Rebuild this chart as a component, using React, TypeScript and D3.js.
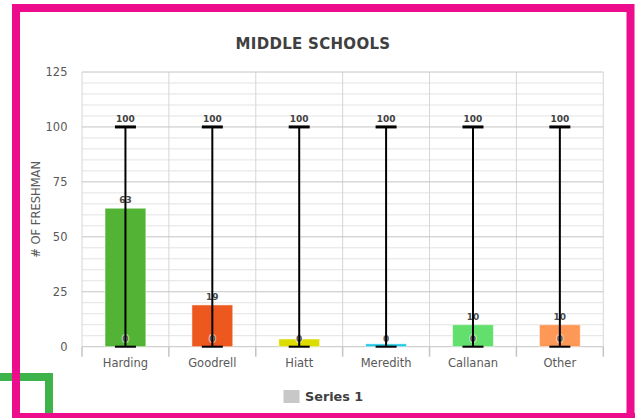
import React from 'react';
import * as d3 from 'd3';

const categories = ['Harding', 'Goodrell', 'Hiatt', 'Meredith', 'Callanan', 'Other'];
const freshmen = [63, 19, 3.5, 1.3, 10, 10];
const valueLabels = ['63', '19', '', '', '10', '10'];
const rangeLow = [0, 0, 0, 0, 0, 0];
const rangeHigh = [100, 100, 100, 100, 100, 100];
const barColors = ['#53b334', '#ed581f', '#dcdc00', '#22c7e4', '#62df6c', '#fe9856'];
const yTicks = [0, 25, 50, 75, 100, 125];
const minorStep = 5;

const W = 638;
const H = 418;
const font = '"DejaVu Sans", Verdana, sans-serif';

export default function App() {
  const margin = { top: 72, right: 34.7, bottom: 71.3, left: 82 };
  const x = d3.scaleBand<string>()
    .domain(categories)
    .range([margin.left, W - margin.right])
    .padding(0);
  const y = d3.scaleLinear()
    .domain([0, 125])
    .range([H - margin.bottom, margin.top]);

  const bw = x.bandwidth();
  const barW = bw * 0.47;
  const capW = 21;
  const minor = d3.range(0, 125 + 0.001, minorStep).filter(v => !yTicks.includes(v));
  const boundaries = categories.map(c => x(c)!).concat([x.range()[1]]);
  const [x0, x1] = x.range();

  const halo = { paintOrder: 'stroke' as const, stroke: 'rgba(255,255,255,0.6)', strokeWidth: 2 };

  return (
    <div style={{ position: 'fixed', left: 0, top: 0 }}>
      <svg width={W} height={H} style={{ display: 'block', background: '#fff' }}>
        {/* green corner accent */}
        <path d="M0,377 H49 V418" fill="none" stroke="#3db34a" strokeWidth={8} />
        {/* pink frame */}
        <path d="M16,420 V8 H630.5 V420" fill="none" stroke="#ec0c8c" strokeWidth={8} />
        <line x1={12} x2={635} y1={415.5} y2={415.5} stroke="#ec0c8c" strokeWidth={5} />

        <text x={313} y={49} textAnchor="middle" fontFamily={font} fontWeight="bold"
          fontSize={15} fill="#404040" letterSpacing={0.3}>MIDDLE SCHOOLS</text>

        {/* minor gridlines */}
        {minor.map(v => (
          <line key={'m' + v} x1={x0} x2={x1} y1={y(v)} y2={y(v)} stroke="#e3e3e3" strokeWidth={1} />
        ))}
        {/* vertical gridlines */}
        {boundaries.map((b, i) => (
          <line key={'v' + i} x1={b} x2={b} y1={y(125)} y2={y(0)} stroke="#d6d6d6" strokeWidth={1} />
        ))}
        {/* major gridlines */}
        {yTicks.map(v => (
          <line key={'g' + v} x1={x0} x2={x1} y1={y(v)} y2={y(v)} stroke="#c4c4c4" strokeWidth={1} />
        ))}
        {/* x axis ticks */}
        {boundaries.map((b, i) => (
          <line key={'t' + i} x1={b} x2={b} y1={y(0)} y2={y(0) + 10} stroke="#c4c4c4" strokeWidth={1.5} />
        ))}

        {yTicks.map(v => (
          <text key={'yl' + v} x={67.5} y={y(v)} dy="0.35em" textAnchor="end" fontFamily={font}
            fontSize={11.5} fill="#595959">{v}</text>
        ))}
        <text transform={`translate(40,${(y(0) + y(125)) / 2}) rotate(-90)`} textAnchor="middle"
          fontFamily={font} fontSize={11.5} fill="#595959">{'# OF FRESHMAN'}</text>

        {/* bars */}
        {categories.map((c, i) => {
          const cx = x(c)! + bw / 2;
          return (
            <rect key={'b' + c} x={cx - barW / 2} y={y(freshmen[i])} width={barW}
              height={y(0) - y(freshmen[i])} fill={barColors[i]} stroke="rgba(255,255,255,0.5)" strokeWidth={1} />
          );
        })}

        {/* data labels (under the high-low lines) */}
        {categories.map((c, i) => {
          const cx = x(c)! + bw / 2;
          return (
            <g key={'lab' + c}>
              <text x={cx} y={y(rangeLow[i]) - 5} textAnchor="middle" fontFamily={font} fontWeight="bold"
                fontSize={9} fill="#5a5a5a" style={halo}>{rangeLow[i]}</text>
              {valueLabels[i] && (
                <text x={cx} y={y(freshmen[i]) - 5} textAnchor="middle" fontFamily={font} fontWeight="bold"
                  fontSize={9} fill="#4a4a4a" style={halo}>{valueLabels[i]}</text>
              )}
            </g>
          );
        })}

        {/* high-low lines */}
        {categories.map((c, i) => {
          const cx = x(c)! + bw / 2;
          return (
            <g key={'hl' + c}>
              <line x1={cx} x2={cx} y1={y(rangeHigh[i])} y2={y(rangeLow[i])} stroke="#000" strokeWidth={2} />
              <line x1={cx - capW / 2} x2={cx + capW / 2} y1={y(rangeHigh[i])} y2={y(rangeHigh[i])} stroke="#000" strokeWidth={3} />
              <line x1={cx - capW / 2} x2={cx + capW / 2} y1={y(rangeLow[i])} y2={y(rangeLow[i])} stroke="#000" strokeWidth={2} />
              <text x={cx} y={y(rangeHigh[i]) - 5} textAnchor="middle" fontFamily={font} fontWeight="bold"
                fontSize={9} fill="#404040">{rangeHigh[i]}</text>
            </g>
          );
        })}

        {categories.map(c => (
          <text key={'xl' + c} x={x(c)! + bw / 2} y={363} dy="0.35em" textAnchor="middle" fontFamily={font}
            fontSize={11.5} fill="#595959">{c}</text>
        ))}

        {/* legend */}
        <rect x={283.5} y={390} width={16} height={13} fill="#c8c8c8" />
        <text x={305} y={397} dy="0.35em" fontFamily={font} fontWeight="bold" fontSize={12.8} fill="#404040">Series 1</text>
      </svg>
    </div>
  );
}
